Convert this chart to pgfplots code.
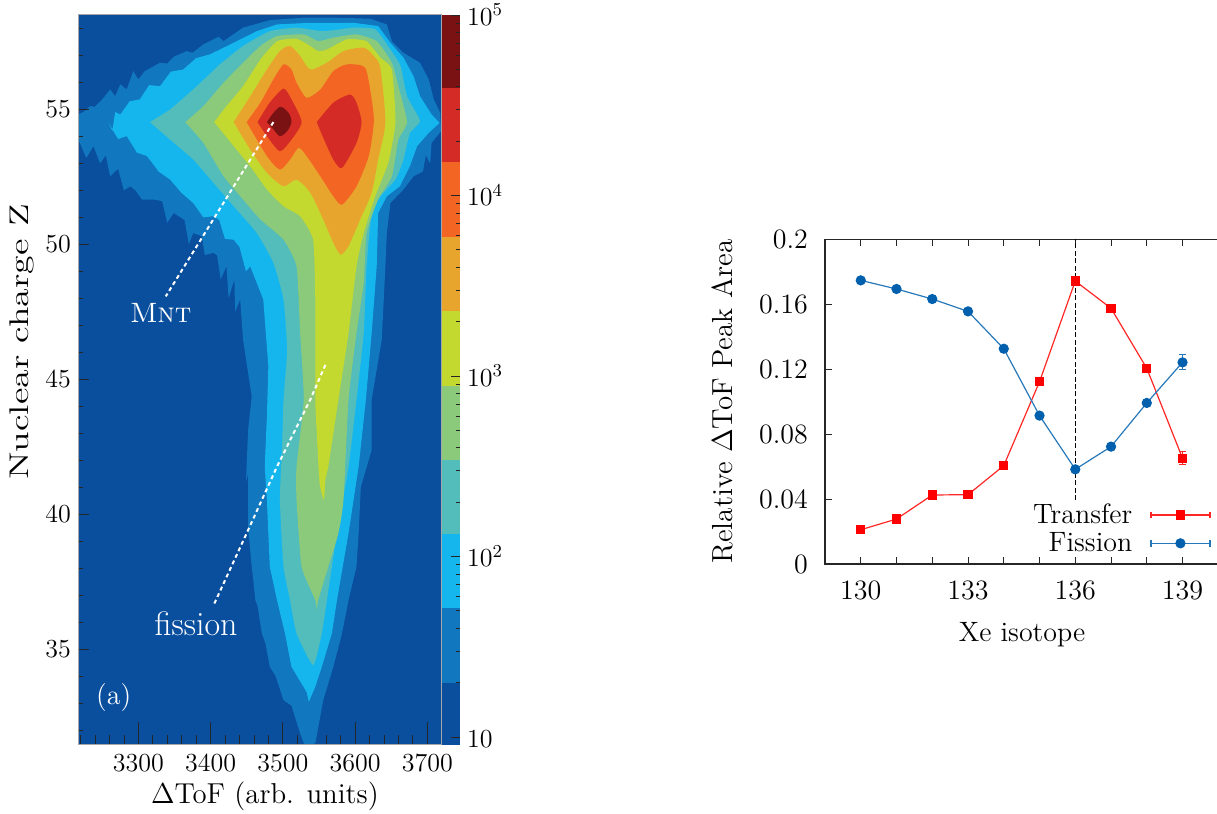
\documentclass[border=0pt]{standalone}
\usepackage{fix-cm}
\usepackage{pgfplots}
\usepackage{graphicx}
\pgfplotsset{compat=1.18}
\definecolor{bgc}{HTML}{0A4E9E}
\definecolor{ca}{HTML}{1177BF}
\definecolor{cb}{HTML}{15B6EE}
\definecolor{cc}{HTML}{52BDBB}
\definecolor{cd}{HTML}{8BC97B}
\definecolor{ce}{HTML}{C3D92F}
\definecolor{cf}{HTML}{E8A52E}
\definecolor{cg}{HTML}{F26522}
\definecolor{ch}{HTML}{D42B26}
\definecolor{ci}{HTML}{7A1214}
\definecolor{gpblue}{HTML}{0060AD}
\newcommand{\fs}[1]{\fontsize{#1}{#1}\selectfont}
\begin{document}
\begin{tikzpicture}
\useasboundingbox (0,0) rectangle (608.5pt,407pt);
% ---------- contour map
\begin{axis}[
  name=map, at={(39pt,34.5pt)}, anchor=south west,
  width=181.5pt, height=365pt, scale only axis,
  xmin=3216.5, xmax=3719, ymin=31.44, ymax=58.5,
  axis background/.style={fill=bgc},
  axis line style={draw=gray!70, line width=0.5pt},
  xtick={3300,3400,3500,3600,3700},
  minor xtick={3220,3240,...,3700},
  ytick=\empty,
  xtick pos=bottom, tick align=inside,
  major tick length=11.5pt, minor tick length=5pt,
  tick style={black!85, line width=0.35pt},
  /pgf/number format/assume math mode=true,
  /pgf/number format/1000 sep={},
  xticklabel style={font=\fs{13}, yshift=-1pt},
  every axis x label/.style={at={(axis description cs:0.515,-0.07)},anchor=center},
  xlabel={\fs{14.4}$\Delta$ToF (arb. units)},
]
\addplot[fill=ca,draw=none] coordinates {
(3217,54.81)(3226,54.94)(3233,55.12)(3240,55.1)(3252,55.43)(3261,55.74)(3268,55.49)(3275,55.93)(3284,55.74)(3293,56.42)(3300,56.11)(3309,56.42)(3330,56.73)(3340,56.7)(3349,56.95)(3367,57.16)(3375,57.1)(3390,57.41)(3411,57.69)(3418,57.53)(3445,58.03)(3482,58.31)(3529,58.40)(3575,58.40)(3621,58.36)(3644,58.15)(3651,57.53)(3667,57.10)(3690,56.73)(3702,56.11)(3709,55.37)(3718,54.87)(3719,54.19)(3706,53.76)(3704,53.0)(3698,53.3)(3694,52.7)(3681,52.52)(3667,52.03)(3649,51.53)(3644,50.42)(3642,49.18)(3637,46.46)(3623,44.24)(3623,42.38)(3608,41.0)(3605,39.29)(3602,38.05)(3591,36.81)(3582,35.58)(3570,34.34)(3556,33.10)(3545,31.50)(3530,31.44)(3524,31.87)(3512,32.9)(3501,33.10)(3490,34.0)(3482,34.34)(3476,35.2)(3471,35.58)(3465,36.6)(3462,36.81)(3459,37.6)(3457,38.05)(3452,39.5)(3452,41.5)(3449,41.2)(3452,43.12)(3457,44.36)(3445,46.46)(3441,47.95)(3434,47.5)(3433,48.7)(3425,48.0)(3422,49.18)(3414,48.7)(3409,49.6)(3404,49.68)(3392,49.6)(3388,50.3)(3376,50.42)(3370,50.0)(3364,50.9)(3349,51.16)(3340,50.8)(3333,51.6)(3321,51.66)(3305,51.66)(3296,52.0)(3289,52.15)(3280,52.0)(3272,52.8)(3261,52.52)(3255,53.3)(3247,53.0)(3238,53.64)(3228,53.2)(3217,53.88)
} -- cycle;
\addplot[fill=cb,draw=none] coordinates {
(3259,54.50)(3264,54.2)(3268,54.9)(3275,54.81)(3288,55.3)(3302,55.37)(3315,55.9)(3330,55.86)(3345,56.4)(3362,56.48)(3380,56.9)(3399,57.04)(3432,57.47)(3464,57.90)(3492,58.15)(3538,58.21)(3598,58.21)(3632,58.09)(3649,57.47)(3667,56.92)(3681,56.23)(3690,55.49)(3706,54.81)(3717,54.50)(3702,54.13)(3686,53.64)(3676,52.90)(3662,52.15)(3644,51.78)(3632,51.16)(3630,49.18)(3623,46.71)(3615,44.24)(3605,41.76)(3591,39.29)(3575,36.81)(3568,35.58)(3554,34.34)(3545,33.6)(3536,33.04)(3533,33.4)(3512,34.34)(3503,35.58)(3492,36.81)(3482,38.05)(3478,40.52)(3475,41.76)(3478,43.62)(3480,45.47)(3473,47.95)(3455,49.18)(3449,49.0)(3440,49.9)(3432,50.17)(3420,50.2)(3412,50.9)(3404,51.04)(3390,51.0)(3376,51.53)(3360,51.9)(3344,52.40)(3328,52.7)(3312,53.27)(3298,53.4)(3284,54.01)(3272,53.9)
} -- cycle;
\addplot[fill=cc,draw=none,smooth,tension=0.3] coordinates {
(3316,54.53)(3344,55.00)(3381,55.86)(3413,56.67)(3445,57.35)(3482,57.90)(3519,58.03)(3556,57.90)(3598,58.03)(3628,57.97)(3649,57.22)(3663,56.61)(3672,55.49)(3690,54.57)(3676,54.13)(3667,53.14)(3656,52.40)(3635,51.78)(3623,51.16)(3616,49.18)(3612,46.71)(3602,44.24)(3591,41.76)(3575,39.29)(3561,36.81)(3554,35.58)(3542,34.40)(3519,35.58)(3510,36.81)(3501,38.05)(3496,40.52)(3499,42.5)(3501,44.24)(3506,46.09)(3501,47.95)(3487,49.31)(3464,50.42)(3432,51.41)(3404,52.28)(3376,53.14)(3344,53.88)(3316,54.53)
} -- cycle;
\addplot[fill=cd,draw=none,smooth,tension=0.3] coordinates {
(3365,54.53)(3390,55.12)(3418,55.99)(3445,56.73)(3469,57.35)(3492,57.72)(3529,57.78)(3549,57.53)(3570,57.66)(3602,57.78)(3630,57.53)(3651,56.73)(3660,55.86)(3672,54.53)(3660,53.88)(3651,52.52)(3632,51.66)(3616,50.42)(3612,48.57)(3602,46.71)(3591,44.24)(3584,40.52)(3577,39.29)(3563,38.05)(3549,36.81)(3547,36.44)(3545,36.81)(3526,38.05)(3519,40.52)(3519,41.76)(3529,44.24)(3524,46.71)(3519,49.18)(3501,50.17)(3469,50.92)(3445,51.66)(3418,52.52)(3390,53.76)(3365,54.53)
} -- cycle;
\addplot[fill=ce,draw=none,smooth,tension=0.3] coordinates {
(3405,54.53)(3422,55.12)(3445,55.86)(3469,56.85)(3492,57.53)(3519,57.62)(3538,57.35)(3549,57.16)(3561,57.22)(3589,57.60)(3616,57.53)(3635,56.92)(3651,56.48)(3656,54.53)(3646,53.02)(3628,51.78)(3612,50.42)(3602,49.18)(3591,46.71)(3577,44.24)(3570,43.00)(3563,41.76)(3559,41.27)(3557,40.52)(3551,41.14)(3547,43.00)(3545,44.24)(3545,47.95)(3542,50.17)(3524,51.04)(3501,51.41)(3478,52.03)(3455,52.89)(3432,53.64)(3405,54.53)
} -- cycle;
\addplot[fill=cf,draw=none,smooth,tension=0.4] coordinates {
(3432,54.53)(3455,55.49)(3478,56.48)(3496,57.16)(3510,57.35)(3524,56.98)(3538,56.48)(3561,56.73)(3584,57.16)(3612,57.29)(3626,56.98)(3635,56.54)(3642,54.53)(3632,53.14)(3623,51.91)(3607,50.92)(3591,49.93)(3580,49.62)(3570,50.05)(3556,50.92)(3538,51.91)(3519,52.40)(3501,52.15)(3478,52.65)(3455,53.51)(3432,54.53)
} -- cycle;
\addplot[fill=cg,draw=none,smooth,tension=0.4] coordinates {
(3450,54.53)(3469,55.25)(3487,56.11)(3501,56.67)(3512,56.48)(3519,55.99)(3533,55.43)(3552,55.74)(3570,56.42)(3589,56.67)(3614,56.54)(3623,55.37)(3626,54.53)(3619,53.27)(3602,52.15)(3582,51.47)(3570,51.78)(3552,52.52)(3533,53.27)(3522,53.58)(3510,53.14)(3496,52.77)(3478,53.27)(3450,54.53)
} -- cycle;
\addplot[fill=ch,draw=none,smooth,tension=0.4] coordinates {
(3465,54.53)(3482,55.25)(3501,55.77)(3512,55.37)(3526,54.53)(3512,53.88)(3496,53.45)(3478,54.01)(3465,54.53)
} -- cycle;
\addplot[fill=ch,draw=none,smooth,tension=0.4] coordinates {
(3547,54.53)(3570,55.25)(3593,55.55)(3602,55.25)(3609,54.53)(3602,53.76)(3582,52.83)(3570,53.14)(3556,53.95)(3547,54.53)
} -- cycle;
\addplot[fill=ci,draw=none,smooth,tension=0.5] coordinates {
(3478,54.53)(3487,54.87)(3497,55.10)(3508,54.87)(3512,54.53)(3506,54.19)(3496,54.01)(3487,54.26)(3478,54.53)
} -- cycle;
\addplot[white,line width=1pt,dash pattern=on 2pt off 1.6pt] coordinates {(3487,54.53)(3338,48.07)};
\addplot[white,line width=1pt,dash pattern=on 2pt off 1.6pt] coordinates {(3559,45.53)(3538,44.24)(3492,41.76)(3450,39.29)(3405,36.67)};
\node[white,font=\fs{14}] at (axis cs:3331,47.47) {\textsc{Mnt}};
\node[white,font=\fs{17}] at (axis cs:3380,35.93) {fission};
\node[white,font=\fs{14}] at (axis cs:3266,33.19) {(a)};
\end{axis}
% ---------- y ticks of the map
\begin{axis}[
  at={(39pt,34.5pt)}, anchor=south west,
  width=181.5pt, height=365pt, scale only axis,
  xmin=3216.5, xmax=3719, ymin=31.44, ymax=58.5,
  axis line style={draw=gray!70, line width=0.5pt},
  xtick=\empty,
  ytick={35,40,45,50,55},
  minor ytick={32,33,...,58},
  ytick pos=left, tick align=inside,
  major tick length=5.5pt, minor tick length=2.6pt,
  tick style={black!85, line width=0.35pt},
  /pgf/number format/assume math mode=true,
  yticklabel style={font=\fs{13}},
  every axis y label/.style={at={(axis description cs:-0.154,0.552)},rotate=90,anchor=center},
  ylabel={\fs{13.5}\scalebox{1.4}[1]{Nuclear charge Z}},
]
\end{axis}
% ---------- colour bar
\begin{axis}[
  at={(221pt,34.5pt)}, anchor=south west,
  width=9pt, height=365pt, scale only axis,
  xmin=0, xmax=1, ymode=log, ymin=9.03, ymax=100000,
  axis line style={draw=none},
  xtick=\empty,
  ytick={10,100,1000,10000,100000},
  yticklabels={10,10\smash{\textsuperscript{2}},10\smash{\textsuperscript{3}},10\smash{\textsuperscript{4}},10\smash{\textsuperscript{5}}},
  ytick pos=right, yticklabel pos=right, tick align=inside,
  major tick length=4.5pt, minor tick length=2pt,
  tick style={black!85, line width=0.35pt},
  yticklabel style={font=\fs{13}, yshift=-1pt},
  axis on top,
]
\addplot[fill=bgc,draw=none] coordinates {(0,9.03)(1,9.03)(1,19.9)(0,19.9)} -- cycle;
\addplot[fill=ca,draw=none] coordinates {(0,19.9)(1,19.9)(1,51.8)(0,51.8)} -- cycle;
\addplot[fill=cb,draw=none] coordinates {(0,51.8)(1,51.8)(1,133)(0,133)} -- cycle;
\addplot[fill=cc,draw=none] coordinates {(0,133)(1,133)(1,342)(0,342)} -- cycle;
\addplot[fill=cd,draw=none] coordinates {(0,342)(1,342)(1,877)(0,877)} -- cycle;
\addplot[fill=ce,draw=none] coordinates {(0,877)(1,877)(1,2286)(0,2286)} -- cycle;
\addplot[fill=cf,draw=none] coordinates {(0,2286)(1,2286)(1,5863)(0,5863)} -- cycle;
\addplot[fill=cg,draw=none] coordinates {(0,5863)(1,5863)(1,15280)(0,15280)} -- cycle;
\addplot[fill=ch,draw=none] coordinates {(0,15280)(1,15280)(1,39250)(0,39250)} -- cycle;
\addplot[fill=ci,draw=none] coordinates {(0,39250)(1,39250)(1,100000)(0,100000)} -- cycle;
\end{axis}
% ---------- right panel
\begin{axis}[
  at={(412.5pt,125pt)}, anchor=south west,
  width=196.65pt, height=162.35pt, scale only axis,
  xmin=129, xmax=140, ymin=0, ymax=0.2,
  axis line style={line width=0.6pt, draw=black!85},
  xtick={130,131,...,139},
  xticklabels={130,,,133,,,136,,,139},
  ytick={0,0.04,0.08,0.12,0.16,0.2},
  yticklabels={0,0.04,0.08,0.12,0.16,0.2},
  ytick pos=left, tick align=inside,
  major tick length=3.5pt,
  tick style={black!85, line width=0.45pt},
  xticklabel style={font=\fs{14}, yshift=-5pt},
  yticklabel style={font=\fs{14}, xshift=-5pt},
  every axis x label/.style={at={(axis description cs:0.501,-0.219)},anchor=center},
  every axis y label/.style={at={(axis description cs:-0.262,0.5)},rotate=90,anchor=center},
  xlabel={\fs{14}Xe isotope},
  ylabel={\fs{14.5}Relative $\Delta$ToF Peak Area},
  legend plot pos=right, legend cell align=right,
  legend style={draw=none, fill=none, at={(axis cs:139.85,0.002)}, anchor=south east,
     font=\fs{14}, row sep=-1pt, inner sep=1pt, /tikz/column 1/.style={column sep=7pt}},
  legend image code/.code={
    \draw[#1,mark=none] (0pt,0pt)--(29.5pt,0pt);
    \draw[#1,mark=none] (0pt,-1.6pt)--(0pt,1.6pt);
    \draw[#1,mark=none] (29.5pt,-1.6pt)--(29.5pt,1.6pt);
    \draw[#1,only marks] plot coordinates {(14.75pt,0pt)};
  },
]
\addplot[forget plot,black,line width=0.45pt,dash pattern=on 2.5pt off 1.2pt] coordinates {(136,0.0394)(136,0.2)};
\addplot[red!85!white,line width=0.6pt,mark=square*,mark size=2pt,mark options={solid,fill=red,draw=red},
  error bars/.cd,y dir=both,y explicit,error bar style={line width=0.4pt},error mark options={rotate=90,mark size=1.6pt}]
  coordinates {
  (130,0.0211)+-(0,0.001)(131,0.0277)+-(0,0.001)(132,0.0425)+-(0,0.001)(133,0.0427)+-(0,0.001)(134,0.0606)+-(0,0.001)
  (135,0.1123)+-(0,0.001)(136,0.1743)+-(0,0.001)(137,0.1575)+-(0,0.001)(138,0.1205)+-(0,0.001)(139,0.0651)+-(0,0.004)};
\addlegendentry{Transfer}
\addplot[gpblue!85!white,line width=0.6pt,mark=*,mark size=2.25pt,mark options={solid,fill=gpblue,draw=gpblue},
  error bars/.cd,y dir=both,y explicit,error bar style={line width=0.4pt},error mark options={rotate=90,mark size=1.6pt}]
  coordinates {
  (130,0.1747)+-(0,0.001)(131,0.1694)+-(0,0.001)(132,0.1632)+-(0,0.001)(133,0.1556)+-(0,0.001)(134,0.1326)+-(0,0.001)
  (135,0.0914)+-(0,0.001)(136,0.0583)+-(0,0.001)(137,0.0723)+-(0,0.001)(138,0.0992)+-(0,0.001)(139,0.1242)+-(0,0.0046)};
\addlegendentry{Fission}
\end{axis}
\end{tikzpicture}
\end{document}
